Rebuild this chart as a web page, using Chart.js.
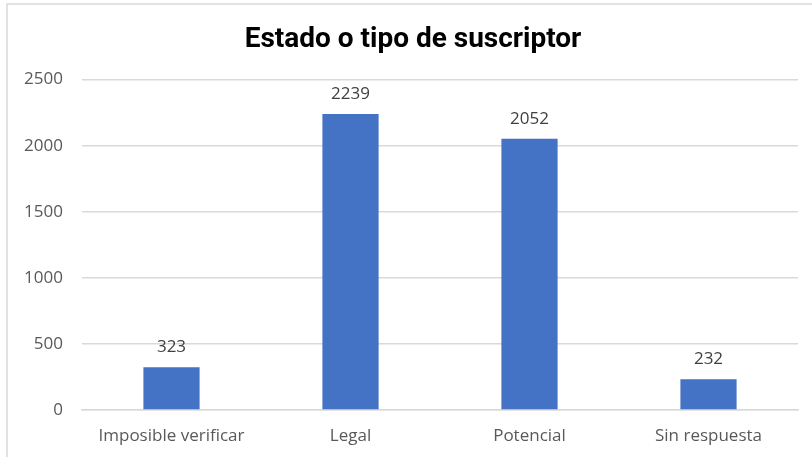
<!DOCTYPE html>
<html>
<head>
<meta charset="utf-8">
<script src="https://cdn.jsdelivr.net/npm/chart.js@4.4.1/dist/chart.umd.min.js"></script>
<style>
html,body{margin:0;padding:0;background:#fff;}
#wrap{position:relative;width:812px;height:457px;}
</style>
</head>
<body>
<div id="wrap"><canvas id="c" width="812" height="457"></canvas></div>
<script>
const categories = ["Imposible verificar", "Legal", "Potencial", "Sin respuesta"];
const subscriberCounts = [323, 2239, 2052, 232];
const yTicks = [0, 500, 1000, 1500, 2000, 2500];
const chartTitle = "Estado o tipo de suscriptor";

const FONT = "Open Sans";

const frame = {
  id: 'frame',
  beforeDraw(chart) {
    const ctx = chart.ctx;
    ctx.save();
    ctx.fillStyle = '#fff';
    ctx.fillRect(0, 0, chart.width, chart.height);
    ctx.strokeStyle = '#d9d9d9';
    ctx.lineWidth = 1.5;
    ctx.strokeRect(7, 4, 900, 600);
    ctx.restore();
  },
  afterLayout(chart) {
    if (chart.titleBlock) {
      chart.titleBlock.left = 28;
      chart.titleBlock.right = chart.width - 14;
    }
  }
};

const valueLabels = {
  id: 'valueLabels',
  afterDatasetsDraw(chart) {
    const ctx = chart.ctx;
    const meta = chart.getDatasetMeta(0);
    ctx.save();
    ctx.fillStyle = '#404040';
    ctx.font = '17px "' + FONT + '"';
    ctx.textAlign = 'center';
    ctx.textBaseline = 'middle';
    meta.data.forEach((bar, i) => {
      ctx.fillText(String(chart.data.datasets[0].data[i]), bar.x, bar.y - 20);
    });
    ctx.restore();
  }
};

new Chart(document.getElementById('c'), {
  type: 'bar',
  data: {
    labels: categories,
    datasets: [{
      data: subscriberCounts,
      backgroundColor: '#4472C4',
      barPercentage: 0.314,
      categoryPercentage: 1.0
    }]
  },
  options: {
    responsive: false,
    animation: false,
    devicePixelRatio: 1,
    layout: { padding: { left: 0, right: 14, top: 0, bottom: 0 } },
    plugins: {
      legend: { display: false },
      tooltip: { enabled: false },
      title: {
        display: true,
        text: chartTitle,
        color: '#000',
        font: { family: 'Roboto', size: 28, weight: 'bold', lineHeight: 1.2 },
        padding: { top: 23, bottom: 23 }
      }
    },
    scales: {
      x: {
        grid: { display: false },
        border: { display: true, color: '#d9d9d9', width: 1.5 },
        ticks: { color: '#595959', font: { family: FONT, size: 17 }, padding: 8, maxRotation: 0 },
        afterFit(scale) { scale.height = 47; }
      },
      y: {
        min: 0,
        max: 2500,
        afterBuildTicks(scale) { scale.ticks = yTicks.map(v => ({ value: v })); },
        grid: { color: '#d9d9d9', lineWidth: 1.5, drawTicks: false },
        border: { display: false },
        ticks: { color: '#595959', font: { family: FONT, size: 17 }, padding: 19, callback: v => String(v) },
        afterFit(scale) { scale.width = 82; }
      }
    }
  },
  plugins: [frame, valueLabels]
});
</script>
</body>
</html>
